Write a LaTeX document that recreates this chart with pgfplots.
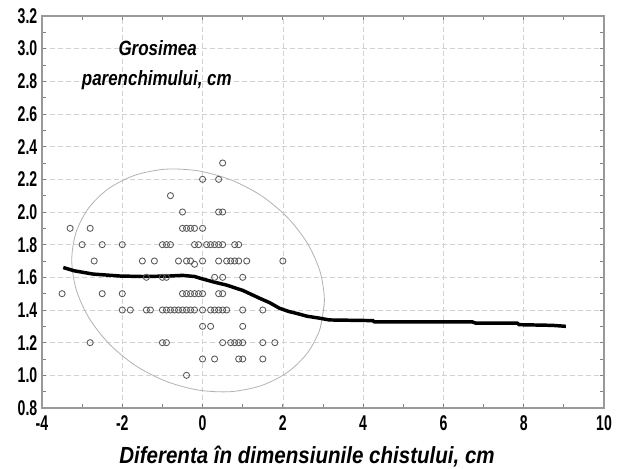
\documentclass[border=0pt]{standalone}
\usepackage{fontspec}
\setmainfont{Liberation Sans}[FakeStretch=0.82]
\newfontfamily\tickfont{Liberation Sans}[FakeStretch=0.66]
\newfontfamily\labelfont{Liberation Sans}[FakeStretch=0.88]
\usepackage{pgfplots}
\pgfplotsset{compat=1.18}

\begin{document}
\begin{tikzpicture}
\begin{axis}[
name=ax,
scale only axis,
width=421.5pt, height=294pt,
xmin=-4, xmax=10, ymin=0.8, ymax=3.2,
xtick={-4,-2,...,10},
ytick={0.8,1.0,...,3.2},
minor x tick num=1, minor y tick num=1,
tick align=inside,
major tick length=3pt, minor tick length=3pt,
tick style={gray, line width=0.6pt},
axis line style={gray!80, line width=1.4pt},
grid=major,
major grid style={gray!35, dash pattern=on 4pt off 2pt, line width=0.5pt},
ticklabel style={font=\tickfont\fontsize{16}{18}\selectfont\bfseries},
xticklabel style={yshift=-2.5pt},
/pgf/number format/assume math mode=true,
yticklabel style={/pgf/number format/.cd, fixed, fixed zerofill, precision=1},
xlabel={Diferenta în dimensiunile chistului, cm},
xlabel style={font=\labelfont\fontsize{17.5}{20}\selectfont\bfseries\itshape,
  at={(axis description cs:0.4715,0)}, anchor=center, yshift=-36.5pt},
clip=false,
]
% ellipse
\addplot[gray!60, line width=0.6pt, smooth] coordinates {
(3.035,1.456) (2.928,1.287) (2.613,1.137) (2.113,1.018) (1.462,0.937) (0.702,0.900)
(-0.112,0.910) (-0.926,0.965) (-1.686,1.062) (-2.337,1.195) (-2.837,1.354) (-3.152,1.528)
(-3.259,1.706) (-3.152,1.875) (-2.837,2.025) (-2.337,2.144) (-1.686,2.225) (-0.926,2.262)
(-0.112,2.252) (0.702,2.197) (1.462,2.100) (2.113,1.967) (2.613,1.808) (2.928,1.634)
(3.035,1.456) (2.928,1.287)
};
% scatter
\addplot[only marks, mark=o, mark size=2.3pt, gray!70!black, line width=0.65pt] table {
x y
-3.5 1.5
-3.3 1.9
-2.8 1.9
-3.0 1.8
-2.5 1.8
-2.0 1.8
-2.7 1.7
-2.5 1.5
-2.0 1.5
-2.8 1.2
-1.5 1.7
-1.2 1.7
-1.4 1.6
-2.0 1.4
-1.8 1.4
-1.4 1.4
-1.3 1.4
0.5 2.3
0.0 2.2
0.4 2.2
-0.8 2.1
-0.5 2.0
0.4 2.0
0.5 2.0
-0.5 1.9
-0.4 1.9
-0.3 1.9
-0.2 1.9
0.0 1.9
-1.0 1.8
-0.9 1.8
-0.8 1.8
-0.2 1.8
-0.1 1.8
0.1 1.8
0.2 1.8
0.3 1.8
0.4 1.8
0.5 1.8
0.8 1.8
0.9 1.8
-0.6 1.7
-0.4 1.7
-0.3 1.7
-0.2 1.68
0.0 1.7
0.4 1.7
0.6 1.7
0.7 1.7
0.8 1.7
0.9 1.7
1.1 1.7
2.0 1.7
-1.0 1.6
-0.9 1.6
0.3 1.6
0.5 1.6
1.0 1.6
-0.5 1.5
-0.4 1.5
-0.3 1.5
-0.2 1.5
-0.1 1.5
0.0 1.5
0.4 1.5
0.5 1.5
-1.0 1.4
-0.9 1.4
-0.8 1.4
-0.7 1.4
-0.6 1.4
-0.5 1.4
-0.4 1.4
-0.3 1.4
-0.2 1.4
0.0 1.4
0.2 1.4
0.3 1.4
0.4 1.4
0.5 1.4
0.6 1.4
1.0 1.4
1.5 1.4
0.0 1.3
0.2 1.3
1.0 1.3
-1.0 1.2
-0.9 1.2
0.5 1.2
0.7 1.2
0.8 1.2
0.9 1.2
1.0 1.2
1.5 1.2
1.8 1.2
0.0 1.1
0.3 1.1
0.9 1.1
1.0 1.1
1.5 1.1
-0.4 1.0
};
% smoothed line
\addplot[black, line width=2.6pt] coordinates {
(-3.47,1.66) (-3.2,1.64) (-2.73,1.62) (-2.06,1.608) (-1.5,1.605) (-0.82,1.608)
(-0.5,1.612) (-0.2,1.605) (0.0,1.59) (0.3,1.57) (0.59,1.553) (1.0,1.52)
(1.42,1.472) (1.67,1.445) (1.92,1.41) (2.16,1.39) (2.33,1.38) (2.6,1.362)
(2.91,1.35) (3.16,1.339) (4.24,1.335) (4.28,1.327) (6.72,1.327) (6.81,1.319)
(7.84,1.319) (7.89,1.31) (8.71,1.306) (9.05,1.30)
};
\node[font=\fontsize{15.5}{18}\selectfont\bfseries\itshape] at (axis cs:-1.12,3.005) {Grosimea};
\node[font=\fontsize{15.5}{18}\selectfont\bfseries\itshape] at (axis cs:-1.14,2.81) {parenchimului, cm};
\end{axis}
\pgfresetboundingbox
\path ([shift={(-31.5pt,-45.75pt)}]ax.south west) rectangle ([shift={(9.75pt,12pt)}]ax.north east);
\end{tikzpicture}
\end{document}
